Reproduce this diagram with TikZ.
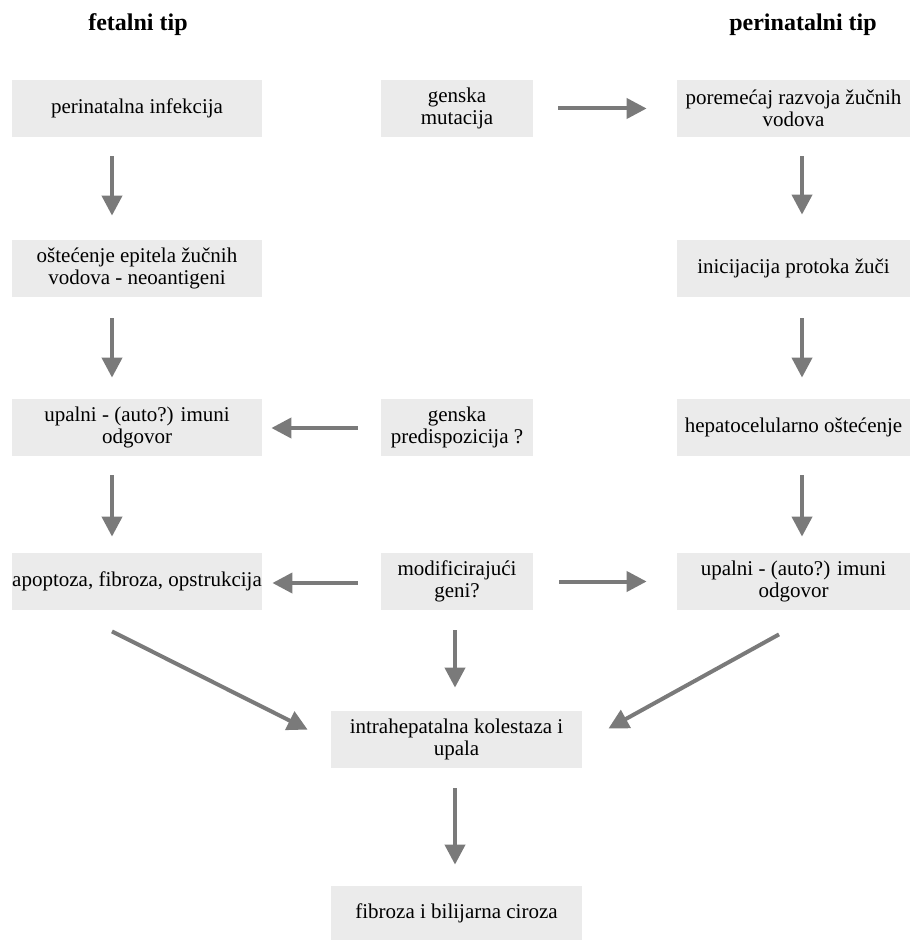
\documentclass[tikz,border=0pt]{standalone}
\usepackage{fontspec}
\setmainfont{LiberationSerif}[Extension=.ttf, UprightFont=*-Regular, BoldFont=*-Bold,
	ItalicFont=*-Italic, BoldItalicFont=*-BoldItalic]
\usepackage{xcolor}
\usetikzlibrary{
	arrows.meta,
	positioning,
	}

\definecolor{boxgray}{RGB}{235,235,235}
\definecolor{arrgray}{RGB}{122,122,122}

\tikzset{
	box/.style={fill=boxgray, align=center, inner sep=0pt, minimum height=28.5pt,
		font=\fontsize{10.5}{11.3}\selectfont},
	lbox/.style={box, minimum width=125pt},
	mbox/.style={box, minimum width=76pt},
	rbox/.style={box, minimum width=116.5pt},
	title/.style={font=\fontsize{12}{14}\bfseries\selectfont},
	arr/.style={draw=arrgray, line width=2pt, -{Triangle[width=10pt,length=10pt]}},
	}

\begin{document}
\begin{tikzpicture}[x=0.5pt, y=-0.5pt]
		\useasboundingbox (0,0) rectangle (920,940);
		\node[title] (fet) at (138,25) {fetalni tip};
		\node[title] (per) at (803,25) {perinatalni tip};
		% fetalni tip
		\node[lbox] (inf) at (137,108.5) {perinatalna infekcija};
		\node[lbox] (ost) at (137,268.5) {oštećenje epitela žučnih\\vodova - neoantigeni};
		\node[lbox] (upl) at (137,427.5) {upalni - (auto?) imuni\\odgovor};
		\node[lbox] (apo) at (137,581.5) {apoptoza, fibroza, opstrukcija};
		% sredina
		\node[mbox] (mut) at (457,108.5) {genska\\mutacija};
		\node[mbox] (pred) at (457,427.5) {genska\\predispozicija ?};
		\node[mbox] (mod) at (457,581.5) {modificirajući\\geni?};
		% perinatalni tip
		\node[rbox] (por) at (793.5,108.5) {poremećaj razvoja žučnih\\vodova};
		\node[rbox] (ini) at (793.5,268.5) {inicijacija protoka žuči};
		\node[rbox] (hep) at (793.5,427.5) {hepatocelularno oštećenje};
		\node[rbox] (upr) at (793.5,581.5) {upalni - (auto?) imuni\\odgovor};
		% zajedno
		\node[box, minimum width=125.5pt] (intra) at (456.5,739.5) {intrahepatalna kolestaza i\\upala};
		\node[box, minimum width=125.5pt, minimum height=27pt] (fib) at (456.5,913) {fibroza i bilijarna ciroza};
		\draw[arr] ([xshift=-12.5pt,yshift=-9.5pt]inf.south) -- ([xshift=-12.5pt,yshift=12pt]ost.north);
		\draw[arr] ([xshift=-12.5pt,yshift=-10.5pt]ost.south) -- ([xshift=-12.5pt,yshift=10.5pt]upl.north);
		\draw[arr] ([xshift=-12.5pt,yshift=-9.5pt]upl.south) -- ([xshift=-12.5pt,yshift=8pt]apo.north);
		\draw[arr] ([xshift=4.25pt,yshift=-9.5pt]por.south) -- ([xshift=4.25pt,yshift=12.5pt]ini.north);
		\draw[arr] ([xshift=4.25pt,yshift=-10.5pt]ini.south) -- ([xshift=4.25pt,yshift=10.5pt]hep.north);
		\draw[arr] ([xshift=4.25pt,yshift=-9.5pt]hep.south) -- ([xshift=4.25pt,yshift=8pt]upr.north);
		\draw[arr] ([xshift=12.5pt]mut.east) -- ([xshift=-15pt]por.west);
		\draw[arr] ([xshift=-11.5pt,yshift=-0.25pt]pred.west) -- ([xshift=4.5pt,yshift=-0.25pt]upl.east);
		\draw[arr] ([xshift=-11.5pt,yshift=-0.75pt]mod.west) -- ([xshift=5pt,yshift=-0.75pt]apo.east);
		\draw[arr] ([xshift=13pt]mod.east) -- ([xshift=-15pt]upr.west);
		\draw[arr] ([xshift=-1pt,yshift=-10pt]mod.south) -- ([xshift=-0.75pt,yshift=11.5pt]intra.north);
		\draw[arr] ([xshift=-12.5pt,yshift=-10.5pt]apo.south) -- ([xshift=-11.5pt,yshift=-9.5pt]intra.north west);
		\draw[arr] ([xshift=-7.25pt,yshift=-12pt]upr.south) -- ([xshift=13pt,yshift=-9pt]intra.north east);
		\draw[arr] ([xshift=-0.75pt,yshift=-10pt]intra.south) -- ([xshift=-0.75pt,yshift=10.5pt]fib.north);
	\end{tikzpicture}
\end{document}
